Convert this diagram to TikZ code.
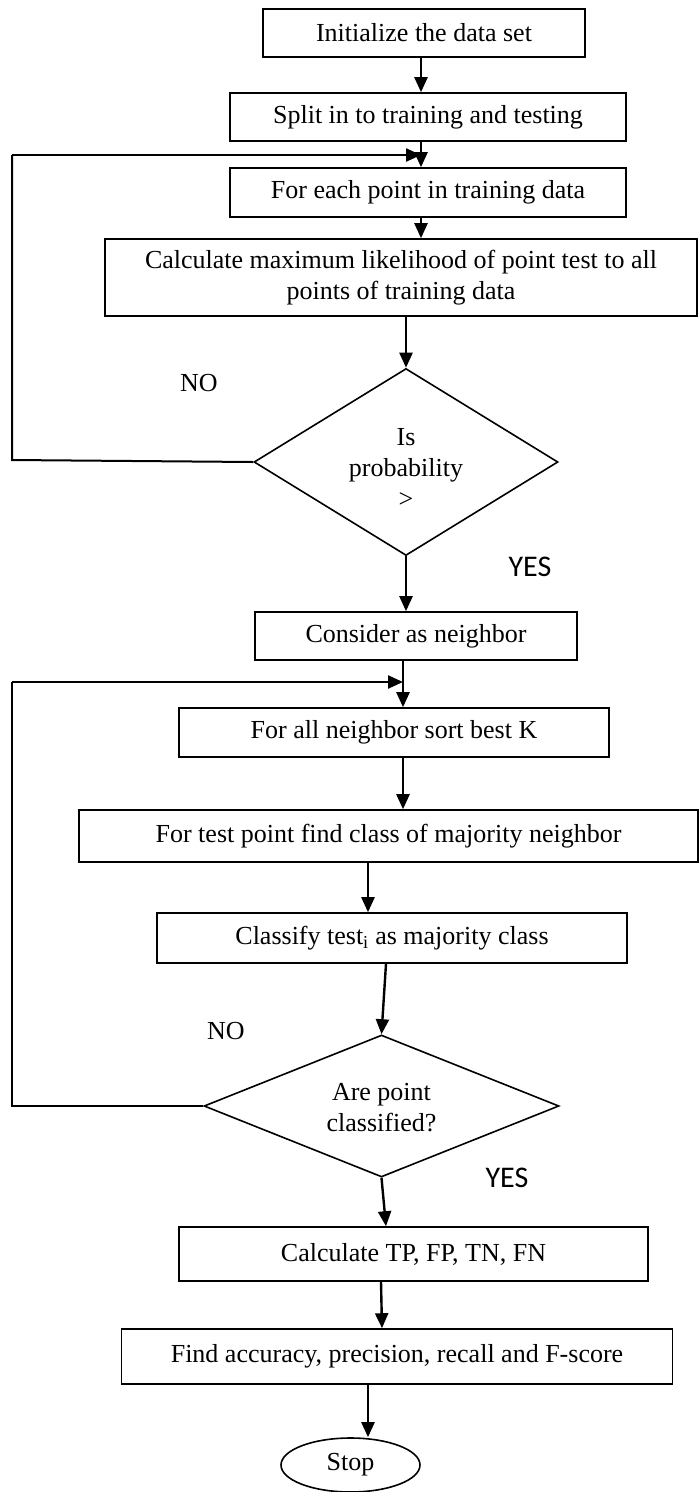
\documentclass[tikz,border=0pt]{standalone}
\usepackage{fontspec}
\setmainfont{Liberation Serif}
\newfontfamily\yesfont{Carlito}
\usetikzlibrary{shapes.geometric,arrows.meta}
\begin{document}
\begin{tikzpicture}[x=1pt,y=-1pt,
  every node/.style={font=\fontsize{26}{31}\selectfont, inner sep=0pt},
  box/.style={draw, line width=1.6pt, rectangle, align=center},
  dia/.style={draw, line width=1.6pt, diamond},
  term/.style={draw, line width=1.6pt, ellipse},
  conn/.style={line width=2.4pt, -{Triangle[length=15pt,width=13pt]}},
  plain/.style={line width=2pt},
  lab/.style={font=\fontsize{26}{31}\selectfont},
  yeslab/.style={font=\yesfont\fontsize{30}{34}\selectfont}]
\useasboundingbox (0,0) rectangle (699,1492);

\node[box, minimum width=322, minimum height=48] (b1) at (424,33) {Initialize the data set};
\node[box, minimum width=396, minimum height=48] (b2) at (428,117) {Split in to training and testing};
\node[box, minimum width=396, minimum height=49] (b3) at (428,192.5) {For each point in training data};
\node[box, minimum width=592, minimum height=77] (b4) at (401,277.5) {Calculate maximum likelihood of point test to all\\points of training data};
\node[dia, minimum width=304, minimum height=187] (d1) at (406,462) {};
\node[align=center] (d1t) at (406,468) {Is\\probability\\\textgreater};
\node[box, minimum width=322, minimum height=48] (b5) at (416,636) {Consider as neighbor};
\node[box, minimum width=430, minimum height=49] (b6) at (394,732.5) {For all neighbor sort best K};
\node[box, minimum width=619, minimum height=52] (b7) at (388.5,836) {For test point find class of majority neighbor};
\node[box, minimum width=470, minimum height=50] (b8) at (392,938) {Classify test\textsubscript{i} as majority class};
\node[dia, minimum width=355, minimum height=142] (d2) at (381.5,1106) {};
\node[align=center] (d2t) at (381.5,1108) {Are point\\classified?};
\node[box, minimum width=469, minimum height=54] (b9) at (413.5,1254) {Calculate TP, FP, TN, FN};
\node[box, minimum width=551, minimum height=55] (b10) at (397,1356.5) {Find accuracy, precision, recall and F-score};
\node[term, minimum width=139, minimum height=54] (stop) at (350.5,1465) {Stop};

\node[lab] (no1) at (199,383) {NO};
\node[lab] (no2) at (226,1031) {NO};
\node[yeslab] (yes1) at (530,567) {YES};
\node[yeslab] (yes2) at (507,1178) {YES};

\coordinate (j1) at (421,155);
\coordinate (j2) at (403,682);
\coordinate (l1) at (12,460);
\coordinate (l2) at (12,1106);

% main flow
\draw[conn] (b1.south -| j1) -- (b2.north -| j1);
\draw[conn] (b2.south -| j1) -- (b3.north -| j1);
\draw[conn] (b3.south -| j1) -- (b4.north -| j1);
\draw[conn] (d1.north |- b4.south) -- (d1.north);
\draw[conn] (d1.south) -- (d1.south |- b5.north);
\draw[conn] (b5.south -| j2) -- (b6.north -| j2);
\draw[conn] (b6.south -| j2) -- (b7.north -| j2);
\draw[conn] ([xshift=-20.5pt]b7.south) -- ([xshift=-24pt]b8.north);
\draw[conn] ([xshift=-6pt]b8.south) -- (d2.north);
\draw[conn] (d2.south) -- ([xshift=-27.5pt]b9.north);
\draw[conn] ([xshift=-32.5pt]b9.south) -- ([xshift=-15pt]b10.north);
\draw[conn] ([xshift=-29pt]b10.south) -- ([xshift=17.5pt]stop.north);

% loops
\draw[plain] (d1.west) -- (l1) -- (l1 |- j1);
\draw[conn] (l1 |- j1) -- (j1);
\draw[plain] (d2.west) -- (l2) -- (l2 |- j2);
\draw[conn] (l2 |- j2) -- (j2);
\end{tikzpicture}
\end{document}
